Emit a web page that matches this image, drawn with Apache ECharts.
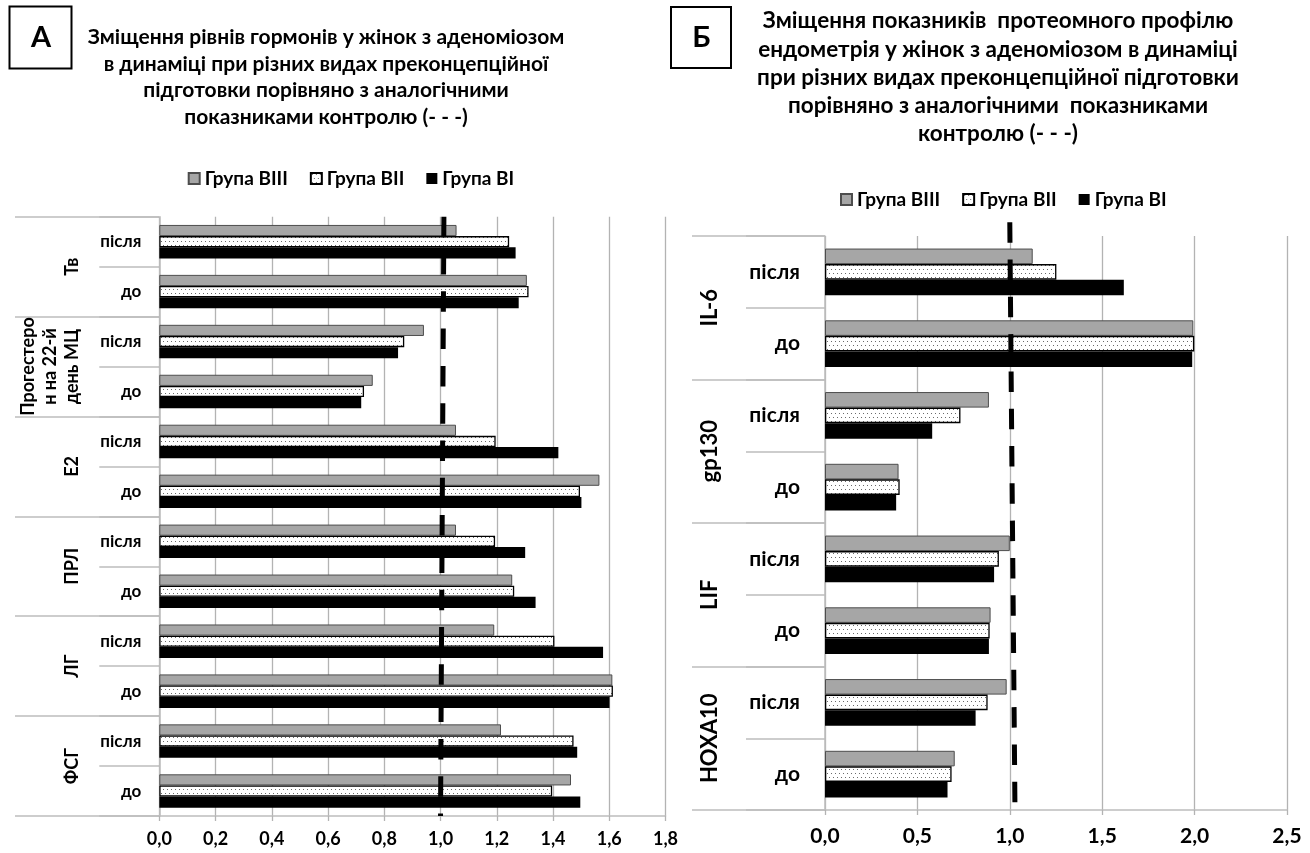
<!DOCTYPE html>
<html><head><meta charset="utf-8">
<script src="https://cdn.jsdelivr.net/npm/echarts@6/dist/echarts.min.js"></script>
<style>html,body{margin:0;padding:0;background:#fff}#c{width:1310px;height:853px}</style>
</head><body><div id="c"></div>
<script>
// ---------- data ----------
const seriesNames = ['Група BIII', 'Група BII', 'Група BI'];
const stages = ['після', 'до'];

const leftGroups = ['Тв', 'Прогестеро\nн на 22-й\nдень МЦ', 'E2', 'ПРЛ', 'ЛГ', 'ФСГ'];
const leftBIII = [1.057, 1.307, 0.941, 0.759, 1.055, 1.565, 1.055, 1.255, 1.191, 1.611, 1.215, 1.464];
const leftBII  = [1.244, 1.313, 0.871, 0.728, 1.196, 1.496, 1.194, 1.262, 1.405, 1.613, 1.473, 1.397];
const leftBI   = [1.267, 1.278, 0.849, 0.718, 1.419, 1.501, 1.301, 1.338, 1.578, 1.601, 1.486, 1.497];
const leftControl = [[1.012, 1], [1.0, 0]];

const rightGroups = ['IL-6', 'gp130', 'LIF', 'HOXA10'];
const rightBIII = [1.124, 1.993, 0.887, 0.398, 1.000, 0.896, 0.983, 0.702];
const rightBII  = [1.252, 1.998, 0.733, 0.404, 0.941, 0.891, 0.880, 0.685];
const rightBI   = [1.617, 1.987, 0.580, 0.385, 0.915, 0.887, 0.815, 0.663];
const rightControl = [[1.0, 1.024], [1.028, 0]];

const leftTitle = 'Зміщення рівнів гормонів у жінок з аденоміозом\nв динаміці при різних видах преконцепційної\nпідготовки порівняно з аналогічними\nпоказниками контролю (- - -)';
const rightTitle = 'Зміщення показників  протеомного профілю\nендометрія у жінок з аденоміозом в динаміці\nпри різних видах преконцепційної підготовки\nпорівняно з аналогічними  показниками\nконтролю (- - -)';

// ---------- styling ----------
const F = "Lato, 'Open Sans', sans-serif";
const GRID_LINE = '#b3b3b3';
const SEP_LINE = '#bdbdbd';

function dotPattern() {
  const c = document.createElement('canvas');
  c.width = 8; c.height = 8;
  const g = c.getContext('2d');
  g.fillStyle = '#ffffff'; g.fillRect(0, 0, 8, 8);
  g.fillStyle = '#6a6a6a';
  [[1, 1], [5, 1], [3, 5], [7, 5]].forEach(p => g.fillRect(p[0], p[1], 1, 1));
  return c;
}
const dots = { image: dotPattern(), repeat: 'repeat' };
const styles = [
  { color: '#a6a6a6', borderColor: '#4d4d4d', borderWidth: 1 },
  { color: dots, borderColor: '#000', borderWidth: 1.3 },
  { color: '#000', borderColor: '#000', borderWidth: 0 }
];

const leftCats = leftGroups.flatMap(() => stages);
const rightCats = rightGroups.flatMap(() => stages);
const fmt = v => v.toFixed(1).replace('.', ',');

// layout (pixels)
const L = { left: 159.3, top: 216.7, width: 506.2, height: 599.3, inner: 60, outer: 144.3 };
const R = { left: 825, top: 236, width: 462, height: 574, inner: 79, outer: 133 };

function barSeries(gridIdx, arrays, gap) {
  return arrays.map((d, i) => ({
    type: 'bar', name: seriesNames[i], xAxisIndex: gridIdx, yAxisIndex: gridIdx * 3,
    data: d, barGap: '0%', barCategoryGap: gap, itemStyle: styles[i], z: 2,
    emphasis: { disabled: true }, animation: false
  }));
}
function controlSeries(gridIdx, data) {
  return {
    type: 'line', name: 'control', xAxisIndex: gridIdx, yAxisIndex: gridIdx * 3 + 2,
    data: data, symbol: 'none', clip: false, z: 10, silent: true, animation: false,
    lineStyle: { color: '#000', width: 5, type: [20.5, 16.8], cap: 'butt' }
  };
}
function legend(left, top) {
  return {
    left: left, top: top, padding: 0, data: seriesNames, icon: 'rect', itemWidth: 11, itemHeight: 11,
    itemGap: 22, selectedMode: false,
    textStyle: { fontFamily: F, fontWeight: 'bold', fontSize: 19, color: '#000' }
  };
}
function xAxis(gridIdx, max, interval, fs, margin) {
  return {
    type: 'value', gridIndex: gridIdx, min: 0, max: max, interval: interval,
    axisLine: { show: true, lineStyle: { color: SEP_LINE, width: 1.5 } },
    axisTick: { show: true, length: 5, lineStyle: { color: GRID_LINE, width: 1.3 } },
    splitLine: { show: true, lineStyle: { color: GRID_LINE, width: 1.3 } },
    axisLabel: { formatter: fmt, fontFamily: F, fontWeight: 'bold', fontSize: fs, color: '#000', margin: margin }
  };
}
function yAxes(gridIdx, cats, groups, o) {
  return [
    {
      type: 'category', gridIndex: gridIdx, data: cats, inverse: true, position: 'left',
      axisLine: { show: true, lineStyle: { color: SEP_LINE, width: 1.5 } },
      axisTick: { show: false },
      axisLabel: { interval: 0, fontFamily: F, fontWeight: 'bold', fontSize: o.innerFs, color: '#000', margin: o.innerMargin }
    },
    {
      type: 'category', gridIndex: gridIdx, data: groups, inverse: true, position: 'left', offset: 0,
      axisLine: { show: false }, axisTick: { show: false },
      axisLabel: { interval: 0, rotate: 90, fontFamily: F, fontWeight: 'bold', fontSize: o.outerFs,
                   lineHeight: o.outerLh, color: '#000', margin: o.outerMargin }
    },
    { type: 'value', gridIndex: gridIdx, min: 0, max: 1, show: false }
  ];
}
// separator strips in the label area: category split lines at band boundaries
function sepGrid(g, w) {
  return { left: g.left - w, top: g.top, width: w, height: g.height, outerBoundsMode: 'none', containLabel: false };
}
function sepX(gridIdx) {
  return { type: 'value', gridIndex: gridIdx, show: false, min: 0, max: 1 };
}
function sepY(gridIdx, cats) {
  return {
    type: 'category', gridIndex: gridIdx, data: cats, inverse: true,
    axisLine: { show: false }, axisTick: { show: false }, axisLabel: { show: false },
    splitLine: { show: true, interval: 0, lineStyle: { color: SEP_LINE, width: 1.5 } }
  };
}

const chart = echarts.init(document.getElementById('c'), null, { renderer: 'canvas' });
chart.setOption({
  backgroundColor: '#fff',
  animation: false,
  textStyle: { fontFamily: F },
  grid: [
    { left: L.left, top: L.top, width: L.width, height: L.height, outerBoundsMode: 'none', containLabel: false },
    { left: R.left, top: R.top, width: R.width, height: R.height, outerBoundsMode: 'none', containLabel: false },
    sepGrid(L, L.outer), sepGrid(L, L.inner), sepGrid(R, R.outer), sepGrid(R, R.inner)
  ],
  legend: [legend(187.7, 169), legend(840, 190)],
  xAxis: [xAxis(0, 1.8, 0.2, 18, 14), xAxis(1, 2.5, 0.5, 21, 16), sepX(2), sepX(3), sepX(4), sepX(5)],
  yAxis: [
    ...yAxes(0, leftCats, leftGroups, { innerFs: 17, innerMargin: 18, outerFs: 18, outerLh: 22, outerMargin: 76 }),
    ...yAxes(1, rightCats, rightGroups, { innerFs: 21, innerMargin: 25, outerFs: 22, outerLh: 26, outerMargin: 102 }),
    sepY(2, leftGroups), sepY(3, leftCats), sepY(4, rightGroups), sepY(5, rightCats)
  ],
  series: [
    ...barSeries(0, [leftBIII, leftBII, leftBI], '33%'),
    controlSeries(0, leftControl),
    ...barSeries(1, [rightBIII, rightBII, rightBI], '35%'),
    controlSeries(1, rightControl)
  ],
  graphic: [
    { type: 'rect', shape: { x: 9.5, y: 6.5, width: 62, height: 62 }, style: { fill: '#fff', stroke: '#000', lineWidth: 2 } },
    { type: 'text', x: 41, y: 38, style: { text: 'А', font: 'bold 29px ' + F, fill: '#000', textAlign: 'center', textVerticalAlign: 'middle' } },
    { type: 'rect', shape: { x: 671, y: 7, width: 60, height: 61 }, style: { fill: '#fff', stroke: '#000', lineWidth: 2 } },
    { type: 'text', x: 701.5, y: 38, style: { text: 'Б', font: 'bold 29px ' + F, fill: '#000', textAlign: 'center', textVerticalAlign: 'middle' } },
    { type: 'text', x: 326, y: 24, style: { text: leftTitle, font: 'bold 21px ' + F, lineHeight: 26.5, fill: '#000', textAlign: 'center', textVerticalAlign: 'top' } },
    { type: 'text', x: 998, y: 7, style: { text: rightTitle, font: 'bold 22.5px ' + F, lineHeight: 28.2, fill: '#000', textAlign: 'center', textVerticalAlign: 'top' } }
  ]
});
</script></body></html>
